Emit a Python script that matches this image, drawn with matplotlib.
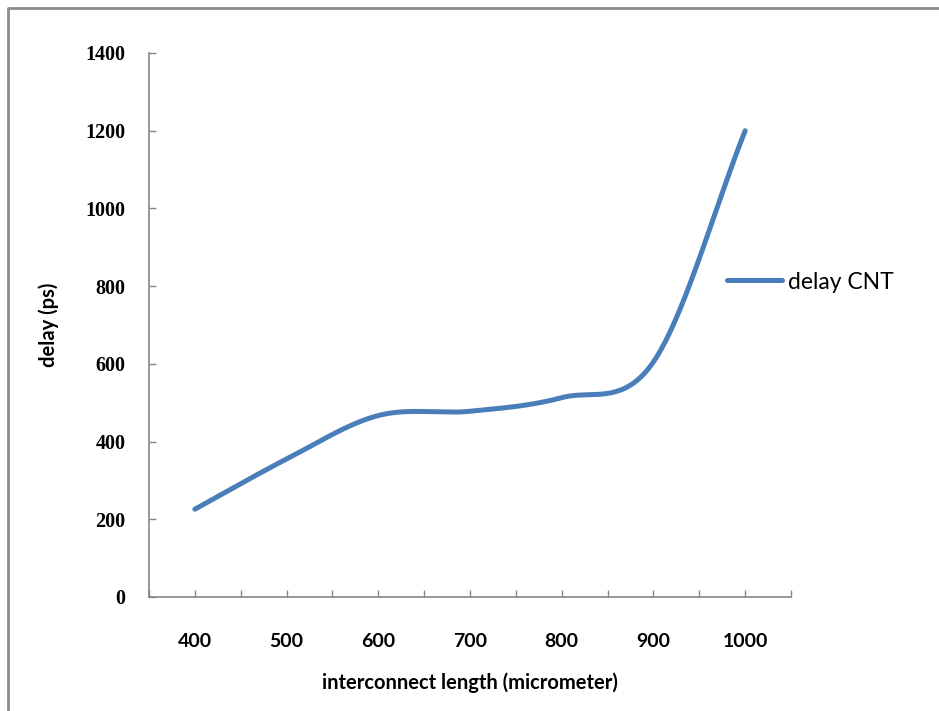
import matplotlib
matplotlib.use("Agg")
import matplotlib.pyplot as plt
from matplotlib.lines import Line2D
import numpy as np

# interconnect length (micrometer) vs delay (ps)
length = [400, 500, 600, 700, 800, 900, 1000]
delay = [226, 355, 467, 478, 513, 605, 1200]
series_name = "delay CNT"

narrow = ["Liberation Sans Narrow", "Lato", "DejaVu Sans"]
serif = ["Liberation Serif", "DejaVu Serif"]


def smooth(xs, ys, n=40):
    # spreadsheet-style smoothed line: cubic Hermite through every point
    xs = np.asarray(xs, float)
    ys = np.asarray(ys, float)
    m = len(xs)
    tx = np.zeros(m)
    ty = np.zeros(m)
    tx[1:-1] = (xs[2:] - xs[:-2]) / 2
    ty[1:-1] = (ys[2:] - ys[:-2]) / 2
    tx[0], ty[0] = xs[1] - xs[0], ys[1] - ys[0]
    tx[-1], ty[-1] = xs[-1] - xs[-2], ys[-1] - ys[-2]
    px, py = [], []
    t = np.linspace(0, 1, n)
    h00 = 2 * t**3 - 3 * t**2 + 1
    h10 = t**3 - 2 * t**2 + t
    h01 = -2 * t**3 + 3 * t**2
    h11 = t**3 - t**2
    for i in range(m - 1):
        px.extend(h00 * xs[i] + h10 * tx[i] + h01 * xs[i + 1] + h11 * tx[i + 1])
        py.extend(h00 * ys[i] + h10 * ty[i] + h01 * ys[i + 1] + h11 * ty[i + 1])
    return np.array(px), np.array(py)


fig = plt.figure(figsize=(9.39, 7.11), dpi=100)
ax = fig.add_axes([149 / 939, 114 / 711, 642 / 939, 544 / 711])

sx, sy = smooth(length, delay)
line, = ax.plot(sx, sy, color="#4a7ebb", lw=3.6, solid_capstyle="round", label=series_name)

ax.set_xlim(350, 1050)
ax.set_ylim(0, 1400)
ax.set_xticks(np.arange(350, 1051, 50))
ax.set_xticklabels([str(v) if v % 100 == 0 else "" for v in range(350, 1051, 50)])
ax.set_yticks(np.arange(0, 1401, 200))

for s in ["top", "right"]:
    ax.spines[s].set_visible(False)
for s in ["left", "bottom"]:
    ax.spines[s].set_color("#868686")
    ax.spines[s].set_linewidth(1.2)

ax.tick_params(axis="both", direction="in", length=5, width=1, color="#868686")
ax.tick_params(axis="x", pad=26)
ax.tick_params(axis="y", pad=17)

for lab in ax.get_xticklabels():
    lab.set_fontfamily(narrow)
    lab.set_fontweight("bold")
    lab.set_fontsize(14)
for lab in ax.get_yticklabels():
    lab.set_fontfamily(serif)
    lab.set_fontweight("bold")
    lab.set_fontsize(14.5)

ax.set_xlabel("interconnect length (micrometer)", family=narrow, fontweight="bold",
              fontsize=14.5, labelpad=16)
ax.set_ylabel("delay (ps)", family=narrow, fontweight="bold", fontsize=14.5, labelpad=19)

fig.legend(handles=[line], loc="center left", bbox_to_anchor=(727 / 939, 1 - 282 / 711),
           frameon=False, borderpad=0, borderaxespad=0, handlelength=2.4, handletextpad=0.25,
           prop={"family": narrow, "size": 16.5})

# chart frame
fig.add_artist(Line2D([8 / 939, 8 / 939, 1], [0, 1 - 8 / 711, 1 - 8 / 711],
                      transform=fig.transFigure, color="#8c8c8c", lw=2))

fig.savefig("out.png", dpi=100)
